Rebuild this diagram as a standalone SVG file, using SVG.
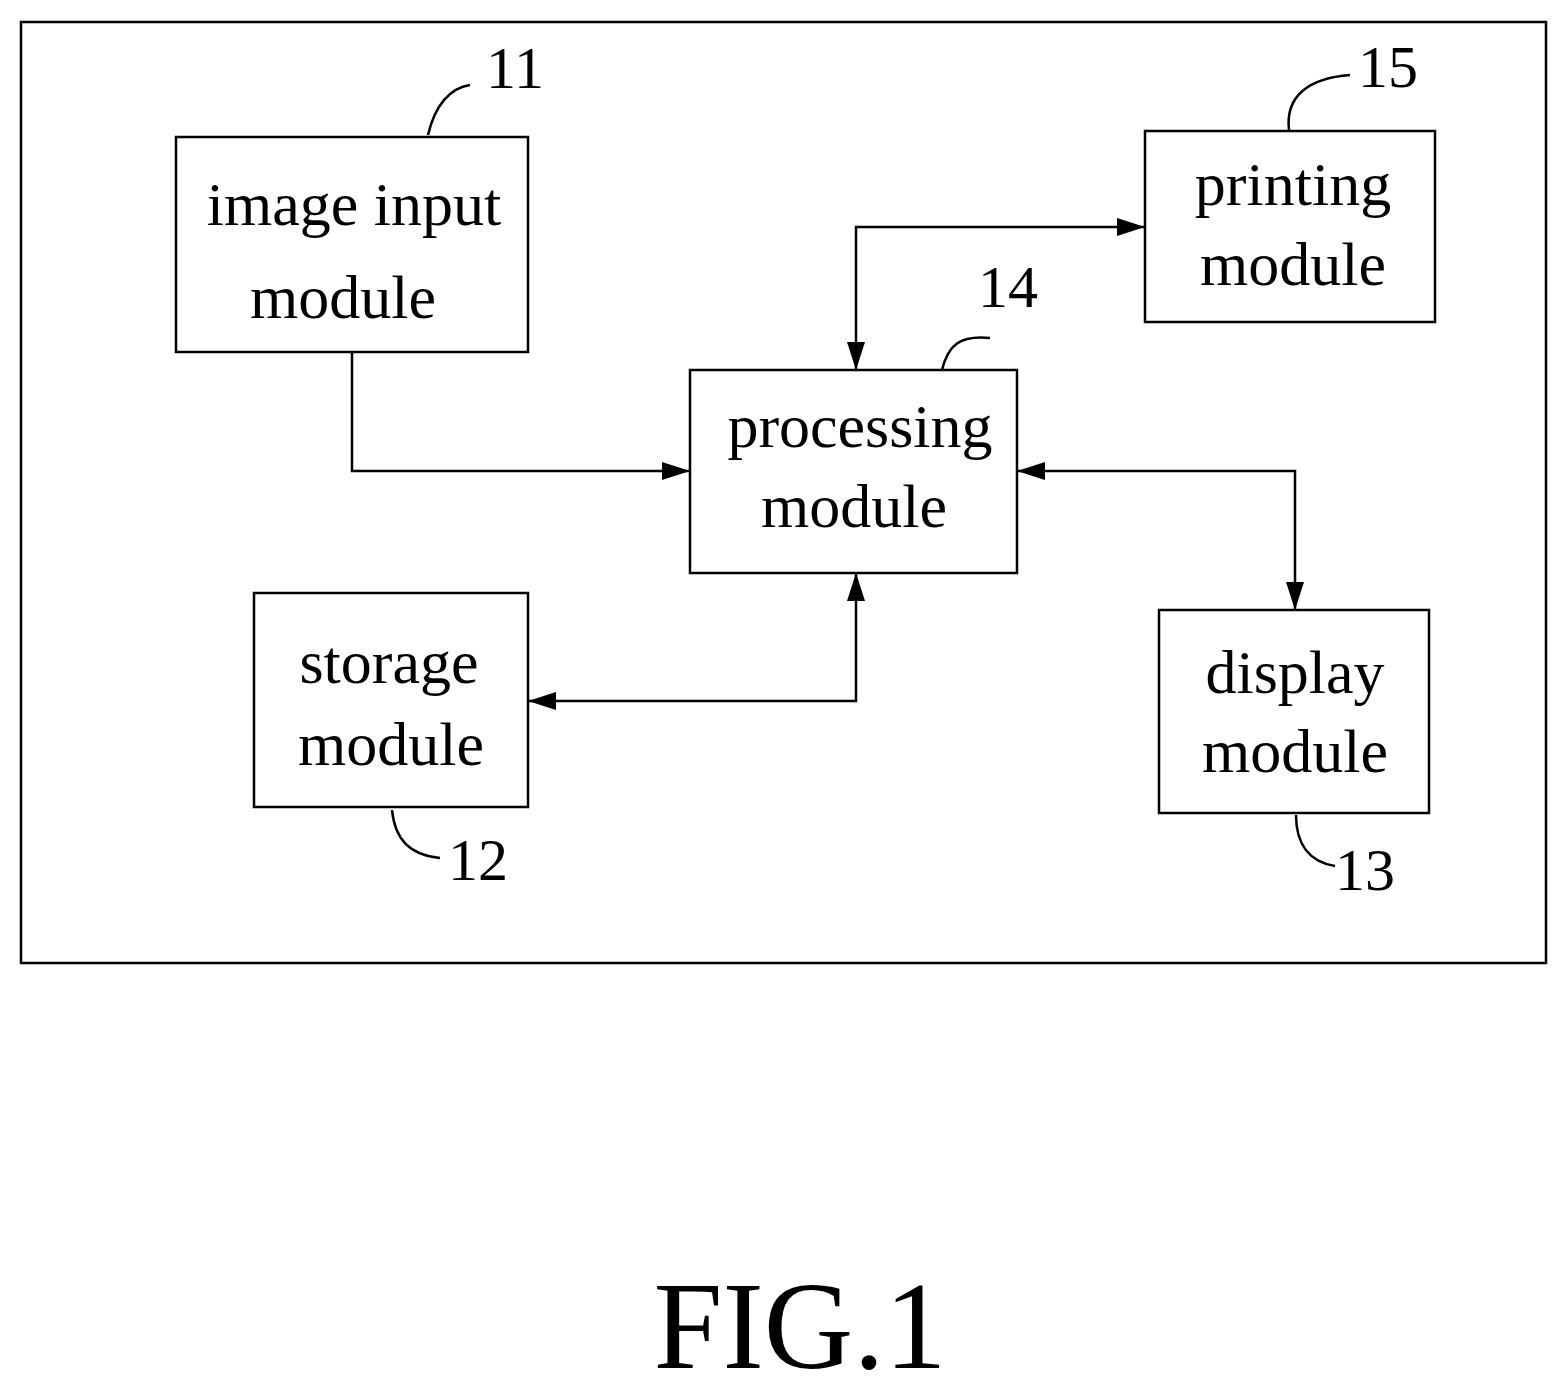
<svg xmlns="http://www.w3.org/2000/svg" width="1567" height="1392" viewBox="0 0 1567 1392">
<style>
.b{fill:none;stroke:#000;stroke-width:2.5}
.t{font-family:"Liberation Serif",serif;font-size:62px;text-anchor:middle;fill:#000}
.n{font-family:"Liberation Serif",serif;font-size:60px;text-anchor:middle;fill:#000}
.c{fill:none;stroke:#000;stroke-width:2.5}
</style>
<defs>
<marker id="a" viewBox="0 0 10 10" refX="10" refY="5" markerWidth="12" markerHeight="12" markerUnits="userSpaceOnUse" orient="auto-start-reverse"><path d="M0,0 L10,5 L0,10 z" fill="#000"/></marker>
<marker id="A" viewBox="0 0 10 10" refX="10" refY="5" markerWidth="28" markerHeight="18" markerUnits="userSpaceOnUse" orient="auto-start-reverse" preserveAspectRatio="none"><path d="M0,0 L10,5 L0,10 z" fill="#000"/></marker>
</defs>
<rect x="21" y="22" width="1525" height="941" class="b"/>
<g id="n11"><rect x="176" y="137" width="352" height="215" class="b"/><text class="t" x="354" y="225">image input</text><text class="t" x="343" y="318">module</text>
<path class="c" d="M428,135 C435,105 450,88 470,85"/><text class="n" x="515" y="88">11</text></g>
<g id="n14"><rect x="690" y="370" width="327" height="203" class="b"/><text class="t" x="860" y="447">processing</text><text class="t" x="854" y="527">module</text>
<path class="c" d="M942,370 C948,345 960,335 990,338"/><text class="n" x="1008" y="307">14</text></g>
<g id="n15"><rect x="1145" y="131" width="290" height="191" class="b"/><text class="t" x="1293" y="205">printing</text><text class="t" x="1293" y="285">module</text>
<path class="c" d="M1289,130 C1285,95 1310,78 1350,75"/><text class="n" x="1388" y="87">15</text></g>
<g id="n12"><rect x="254" y="593" width="274" height="214" class="b"/><text class="t" x="389" y="683">storage</text><text class="t" x="391" y="765">module</text>
<path class="c" d="M392,810 C395,840 410,855 440,858"/><text class="n" x="478" y="880">12</text></g>
<g id="n13"><rect x="1159" y="610" width="270" height="203" class="b"/><text class="t" x="1295" y="693">display</text><text class="t" x="1295" y="772">module</text>
<path class="c" d="M1296,815 C1296,845 1310,862 1335,866"/><text class="n" x="1365" y="890">13</text></g>
<g id="connectors">
<path class="c" d="M352,352 V471 H690" marker-end="url(#A)"/>
<path class="c" d="M856,370 V227 H1145" marker-start="url(#A)" marker-end="url(#A)"/>
<path class="c" d="M1017,471 H1295 V610" marker-start="url(#A)" marker-end="url(#A)"/>
<path class="c" d="M856,573 V701 H528" marker-start="url(#A)" marker-end="url(#A)"/>
</g>
<text x="800" y="1368" style="font-family:'Liberation Serif',serif;font-size:124px;text-anchor:middle">FIG.1</text>
</svg>
